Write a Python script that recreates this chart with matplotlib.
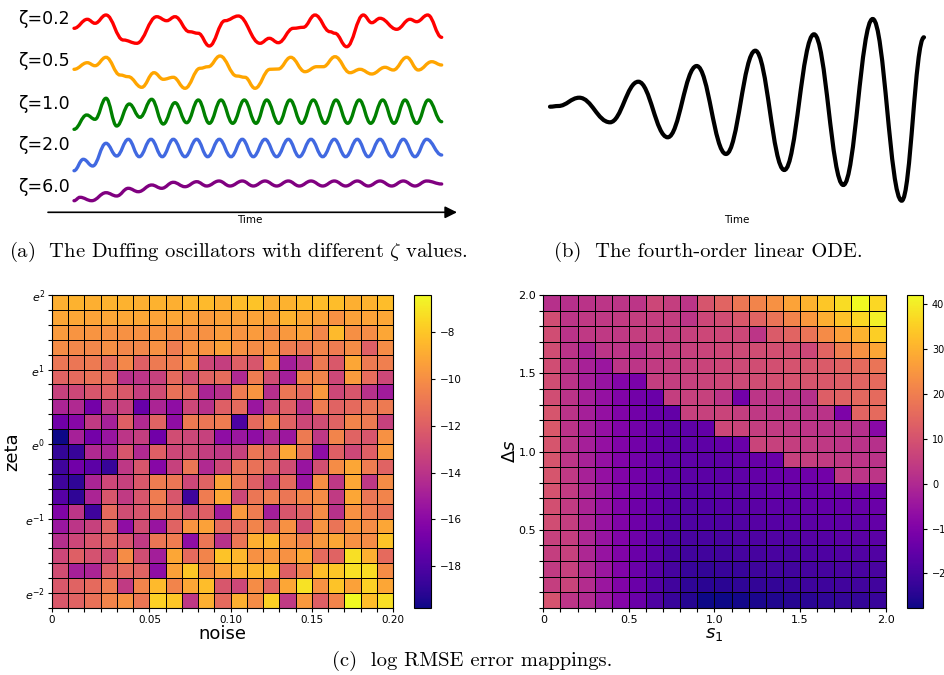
import matplotlib
matplotlib.use("Agg")
import matplotlib.pyplot as plt
import numpy as np
from matplotlib.path import Path
from matplotlib.patches import PathPatch

# ---- (a) Duffing oscillators: extrema (time px, height px)
duffing_labels = ["ζ=0.2", "ζ=0.5", "ζ=1.0", "ζ=2.0", "ζ=6.0"]
duffing_colors = ["red", "orange", "green", "royalblue", "purple"]
label_y = [18.5, 61, 104, 145, 187]

red_t = [74, 87.3, 95, 106, 123.3, 136.7, 156.7, 166.7, 175, 189.3, 198.3, 209.3, 225, 238.3, 260,
         269.3, 278.3, 293.3, 303.3, 315, 330, 335, 346.7, 363.3, 371.7, 380, 396.7, 410, 416.7, 427.7, 441.7]
red_y = [28.3, 19.3, 23.3, 15, 40, 43.3, 16.7, 20.7, 16.7, 31.7, 33.3, 46, 20.7, 16, 43.3,
         38.3, 42.7, 28.3, 27.3, 15, 31.7, 33.3, 46.7, 15, 22.7, 18.3, 29.3, 19.3, 21.7, 15, 37.3]

orange_t = [74, 87.3, 95, 106, 120, 128.3, 141.7, 154, 163.3, 173.3, 185, 200, 208.3, 220, 236.7, 245, 255,
            270, 278.3, 290.7, 305, 316.7, 323.3, 335, 350, 360, 371.7, 385, 393.3, 406.7, 418.3, 431.7, 441.7]
orange_y = [69.3, 62.7, 65.7, 57.3, 75, 76.7, 87.3, 72.7, 79.3, 77.3, 88.3, 68.3, 66.7, 56, 76, 77.3, 88.3,
            69.3, 69, 57.3, 71.7, 66.7, 66.7, 56.7, 72.7, 69.3, 74, 67.3, 70, 57.3, 70, 61.7, 65]

green_t = [74, 86.7, 95, 106, 116.7, 129.3, 140, 151.7, 163.3, 175, 186.7, 198.3, 209.3, 221, 232.7, 244.3,
           256, 266.7, 278.7, 290, 301.7, 313.3, 325, 336, 347.7, 359.3, 370.7, 382.7, 394, 405, 416.7, 428.3, 441.7]
green_y = [129.3, 115, 119.3, 98.3, 126, 104, 117.3, 99.3, 124, 102.7, 122.7, 100, 123.3, 100, 123.3, 100,
           123.3, 100, 123.3, 100, 123.3, 100, 123.3, 100, 123.3, 100, 123.3, 100, 123.3, 100, 123.3, 100, 121.7]

blue_t = [74, 83.3, 92.7, 106, 116.7, 128.3, 139.3, 151, 162.3, 173.3, 185, 196.7, 207.7, 219.3, 231, 242.3,
          253.3, 265, 276.7, 288.3, 299.3, 311, 322.7, 334.3, 345.7, 357.3, 368.3, 380, 391.7, 403.3, 415, 426.7, 441.7]
blue_y = [170.7, 159.3, 166, 143.3, 156, 139.3, 156.7, 139.3, 156.7, 139.3, 156.7, 139.3, 156.7, 139.3, 156.7, 139.3,
          156.7, 139.3, 156.7, 139.3, 156.7, 139.3, 156.7, 139.3, 156.7, 139.3, 156.7, 139.3, 156.7, 139.3, 156.7, 139.3, 155]

purple_t = [74, 80, 91.7, 106, 116.7, 128.3, 138.3, 151.7, 161.7, 173.3, 185, 196.7, 206.7, 219, 230, 242.3,
            253.3, 265, 276.7, 288.3, 299.3, 311, 322.7, 334.3, 345.7, 357.3, 368.3, 380, 391.7, 403.3, 415, 426.7, 441.7]
purple_y = [200.7, 197.3, 200.7, 192.7, 196, 188.3, 191.7, 185, 188.3, 182.3, 186.7, 181.7, 186, 181, 186, 181,
            186, 181, 186, 181, 186, 181, 186, 181, 186, 181, 186, 181, 186, 181, 186, 181, 184]

# ---- (b) fourth-order linear ODE
ode_t = [550, 558.3, 579.3, 610, 638.3, 667.7, 696.7, 726, 755.3, 784.3, 814, 843.3, 872.7, 901.7, 924]
ode_y = [106.7, 106, 97.7, 122.3, 81.7, 137.3, 66, 154, 50.7, 170, 34.3, 185, 19, 200.7, 37.3]

# ---- (c) left: log RMSE over noise x zeta (rows top -> bottom, zeta e^2 ... e^-2.2)
noise_tick_pos = [0, 6, 11, 16, 21]
noise_tick_labels = ["0", "0.05", "0.10", "0.15", "0.20"]
zeta_tick_pos = [0, 5, 10, 15, 20]
zeta_tick_labels = ["$e^{2}$", "$e^{1}$", "$e^{0}$", "$e^{-1}$", "$e^{-2}$"]
rmse_noise = [
    [-8.8, -8.7, -8.8, -8.7, -8.7, -8.8, -8.7, -8.8, -8.5, -8.4, -8.8, -8.3, -8.1, -8.8, -8.7, -8.4, -8.3, -8.3, -8.8, -8.7, -8.3],
    [-9.1, -9.1, -9.2, -9.1, -9.1, -9.1, -9.2, -9.1, -9.3, -9.5, -9.3, -9.3, -9.2, -9.3, -8.7, -9.1, -9.3, -9.9, -9.3, -9.2, -9.1],
    [-9.5, -9.8, -9.8, -9.9, -9.9, -9.9, -9.8, -10.0, -9.9, -9.9, -9.5, -9.8, -9.5, -10.1, -9.6, -9.3, -10.3, -8.4, -10.0, -10.1, -9.1],
    [-10.1, -10.3, -10.3, -10.0, -10.3, -10.3, -9.9, -10.7, -9.9, -9.8, -9.3, -9.9, -10.1, -9.9, -10.7, -11.0, -10.4, -10.7, -10.1, -12.0, -10.1],
    [-11.0, -11.0, -10.8, -11.4, -10.3, -12.0, -10.8, -10.7, -10.0, -13.1, -13.5, -12.0, -12.4, -9.8, -15.0, -13.8, -10.8, -12.3, -9.1, -10.8, -10.6],
    [-11.8, -11.5, -11.2, -11.4, -14.1, -13.9, -13.4, -11.5, -12.8, -11.8, -11.4, -14.5, -10.7, -12.8, -15.0, -10.4, -10.4, -13.1, -9.5, -11.4, -13.1],
    [-13.4, -13.1, -12.4, -12.0, -12.3, -13.5, -12.8, -11.2, -11.5, -14.7, -14.1, -10.7, -9.8, -14.2, -11.0, -11.5, -9.6, -13.1, -12.4, -14.1, -15.1],
    [-14.7, -14.5, -16.8, -13.7, -13.4, -17.2, -14.7, -15.8, -13.1, -14.1, -12.0, -11.5, -15.4, -13.1, -12.0, -14.1, -10.7, -11.8, -11.5, -11.1, -10.8],
    [-16.9, -16.1, -13.7, -14.9, -12.0, -14.5, -11.8, -15.8, -10.8, -11.0, -10.7, -18.1, -11.5, -10.4, -11.8, -13.1, -12.8, -11.8, -10.4, -10.8, -13.4],
    [-19.8, -14.9, -16.8, -15.5, -13.9, -13.5, -16.9, -12.8, -13.1, -13.4, -15.8, -15.4, -15.8, -14.5, -15.3, -10.8, -13.8, -10.4, -11.8, -12.4, -9.9],
    [-18.9, -18.8, -14.5, -14.7, -12.4, -14.5, -12.0, -13.1, -12.8, -13.5, -13.8, -13.4, -11.0, -11.8, -9.1, -11.2, -15.8, -12.0, -13.1, -12.0, -9.5],
    [-18.5, -16.9, -17.6, -18.8, -13.8, -12.4, -16.1, -13.4, -11.0, -14.5, -13.1, -11.2, -11.2, -11.8, -12.8, -15.5, -12.7, -10.1, -9.1, -10.7, -11.8],
    [-18.5, -19.0, -14.7, -13.1, -13.4, -12.3, -10.7, -11.0, -13.1, -11.8, -9.3, -11.0, -12.0, -13.7, -11.5, -15.5, -10.0, -13.8, -9.1, -13.8, -10.1],
    [-17.8, -19.0, -14.7, -12.4, -13.7, -12.4, -10.7, -12.4, -18.5, -10.7, -9.1, -13.1, -11.0, -10.7, -11.0, -10.4, -10.1, -13.7, -9.1, -11.0, -10.4],
    [-16.3, -13.9, -18.5, -11.5, -12.8, -12.4, -11.2, -11.5, -12.6, -12.0, -15.1, -9.6, -10.7, -15.0, -12.4, -11.8, -10.1, -14.1, -9.9, -10.7, -11.2],
    [-15.4, -13.9, -13.4, -11.8, -15.8, -12.8, -15.5, -11.8, -9.8, -9.3, -11.5, -11.5, -10.4, -11.8, -9.9, -12.8, -9.8, -11.1, -9.6, -10.1, -9.1],
    [-14.2, -13.1, -12.4, -11.8, -12.4, -13.7, -11.0, -10.7, -15.8, -11.0, -14.1, -11.0, -8.8, -8.5, -9.9, -10.4, -9.6, -9.1, -9.9, -10.1, -8.1],
    [-13.1, -12.0, -12.6, -12.8, -10.1, -12.8, -15.0, -9.1, -11.5, -10.4, -8.1, -8.5, -9.9, -9.6, -9.9, -9.1, -11.5, -11.8, -7.2, -8.8, -11.5],
    [-12.8, -14.9, -14.7, -12.0, -11.5, -11.8, -15.8, -9.3, -8.0, -10.1, -9.3, -8.7, -8.5, -8.3, -12.0, -10.4, -8.3, -8.0, -7.2, -7.3, -10.1],
    [-12.3, -11.8, -11.5, -10.7, -13.7, -10.4, -8.4, -10.4, -9.1, -8.3, -12.4, -13.1, -10.1, -11.8, -9.1, -7.1, -9.9, -8.1, -9.3, -7.7, -9.1],
    [-12.3, -11.8, -11.2, -10.4, -9.9, -11.0, -7.7, -8.0, -13.8, -8.8, -11.5, -8.8, -10.1, -7.7, -13.7, -9.6, -12.0, -10.4, -6.4, -8.3, -7.2],
]

# ---- (c) right: log RMSE over s1 x delta s (rows top -> bottom, delta s 2.0 ... 0)
s1_tick_labels = ["0", "0.5", "1.0", "1.5", "2.0"]
ds_tick_labels = ["0.5", "1.0", "1.5", "2.0"]
rmse_ode = [
    [1.6, 1.6, 2.3, 3.0, 3.0, 3.0, 7.2, 5.1, 3.0, 10.7, 14.2, 18.4, 21.2, 24.0, 27.4, 30.2, 33.7, 37.2, 42.1, 36.5],
    [8.6, 3.0, 3.7, 3.7, 4.4, 5.1, 5.1, 5.1, 3.0, 7.2, 8.6, 11.4, 14.2, 17.7, 21.2, 25.4, 29.5, 33.0, 36.5, 40.7],
    [8.6, 2.3, 3.7, 3.7, 3.7, 5.1, 5.1, 5.1, 5.8, 7.2, 7.2, 7.2, 3.0, 12.1, 14.2, 17.7, 22.6, 26.7, 30.2, 35.1],
    [8.6, 2.3, -1.2, 3.0, 3.0, 1.6, 4.4, 5.1, 5.8, 6.5, 7.2, 7.9, 8.6, 9.3, 9.3, 7.2, 14.2, 19.8, 24.0, 28.1],
    [8.6, 2.3, -1.9, -4.7, 3.0, 3.0, 4.4, 5.1, 5.8, 6.5, 7.2, 7.9, 8.6, 9.3, 10.0, 10.7, 12.1, 13.5, 15.6, 17.7],
    [8.6, 2.3, -2.6, -5.4, -8.9, -10.9, 5.1, 5.1, 5.8, 6.5, 7.2, 7.9, 8.6, 9.3, 10.0, 10.7, 11.4, 12.8, 14.2, 15.6],
    [8.6, 2.3, -2.6, -6.1, -9.6, -12.3, -13.7, 5.1, 5.8, 5.8, 3.0, -12.3, 3.0, 2.3, 2.3, 1.6, 12.8, 13.5, 14.9, 15.6],
    [10.7, 2.3, -2.6, -6.1, -9.6, -12.3, -14.4, -15.1, 5.8, 5.8, 6.5, 5.1, 3.7, 3.0, 3.0, 2.3, 2.3, -10.3, 14.2, 15.6],
    [11.4, 2.3, -2.6, -6.1, -9.6, -12.3, -14.4, -15.8, -15.8, -15.1, 7.2, 6.5, 5.1, 4.4, 3.7, 3.0, 2.3, 2.3, 1.6, -8.2],
    [10.7, 3.0, -2.6, -6.1, -9.6, -12.3, -14.4, -15.8, -15.8, -15.8, -15.1, -13.7, 6.5, 5.8, 5.1, 4.4, 3.7, 3.0, 2.3, 1.6],
    [10.7, 3.0, -1.9, -6.1, -9.6, -12.3, -14.4, -15.8, -15.8, -16.5, -15.8, -15.1, -14.4, -13.7, 5.8, 5.1, 4.4, 3.7, 3.0, 2.3],
    [10.7, 3.7, -1.9, -6.1, -9.6, -12.3, -14.4, -15.8, -16.5, -16.5, -16.5, -15.8, -15.1, -14.4, -13.7, -13.0, -12.3, 3.7, 3.0, 3.0],
    [10.0, 4.4, -1.2, -5.4, -9.6, -12.3, -15.1, -16.5, -17.2, -17.2, -16.5, -16.5, -15.8, -15.1, -14.4, -14.4, -13.7, -13.7, -13.0, -13.0],
    [9.3, 4.4, -1.2, -5.4, -9.6, -13.0, -15.1, -17.2, -17.9, -17.9, -17.2, -17.2, -16.5, -15.8, -15.8, -15.1, -15.1, -14.4, -14.4, -13.7],
    [8.6, 5.1, -1.2, -5.4, -9.6, -13.0, -15.8, -17.9, -18.6, -18.6, -18.6, -17.9, -17.2, -17.2, -16.5, -16.5, -15.8, -15.8, -15.8, -15.1],
    [5.8, 5.1, -0.5, -5.4, -9.6, -13.0, -16.5, -18.6, -19.3, -19.3, -19.3, -18.6, -18.6, -17.9, -17.9, -17.2, -17.2, -16.5, -16.5, -16.5],
    [5.1, 5.8, -0.5, -5.4, -9.6, -13.7, -16.5, -19.3, -20.7, -20.7, -20.7, -20.0, -20.0, -19.3, -19.3, -18.6, -18.6, -17.9, -17.9, -17.9],
    [4.4, 5.8, 0.2, -4.7, -9.6, -13.7, -17.2, -20.0, -22.1, -22.8, -22.1, -22.1, -21.4, -20.7, -20.7, -20.0, -20.0, -19.3, -19.3, -19.3],
    [5.1, 6.5, 0.9, -4.7, -9.6, -13.7, -17.9, -20.7, -23.5, -24.2, -24.2, -23.5, -22.8, -22.8, -22.1, -21.4, -21.4, -20.7, -20.7, -20.7],
    [10.0, 3.0, 0.2, -4.7, -8.9, -13.7, -18.6, -22.1, -24.9, -27.7, -27.7, -27.0, -26.3, -25.6, -24.9, -24.2, -23.5, -22.8, -22.8, -22.1],
]


def smooth_path(t, y):
    # cubic bezier through the read points, flat tangent at each point
    verts = [(t[0], y[0])]
    codes = [Path.MOVETO]
    for i in range(1, len(t)):
        d = 0.4 * (t[i] - t[i - 1])
        verts += [(t[i - 1] + d, y[i - 1]), (t[i] - d, y[i]), (t[i], y[i])]
        codes += [Path.CURVE4] * 3
    return Path(verts, codes)


def time_arrow(ax, x0, x1, y, xt):
    ax.annotate("", xy=(x1, y), xytext=(x0, y),
                arrowprops=dict(arrowstyle="-|>", lw=1.2, color="black", mutation_scale=18,
                                shrinkA=0, shrinkB=0))
    ax.text(xt, y + 3, "Time", ha="center", va="top", fontsize=7.5)


fig = plt.figure(figsize=(9.45, 6.75), dpi=100)
top_h = 240 / 675

# (a)
ax_a = fig.add_axes([0, 1 - top_h, 0.5, top_h])
ax_a.set_xlim(0, 472.5)
ax_a.set_ylim(240, 0)
ax_a.axis("off")
curves = [(red_t, red_y), (orange_t, orange_y), (green_t, green_y), (blue_t, blue_y), (purple_t, purple_y)]
for (t, y), c, lab, ly in zip(curves, duffing_colors, duffing_labels, label_y):
    ax_a.add_patch(PathPatch(smooth_path(t, y), fill=False, edgecolor=c, lw=2.4, capstyle="round"))
    ax_a.text(70, ly, lab, ha="right", va="center", fontsize=12.5)
time_arrow(ax_a, 48, 457, 212.3, 250)

# (b)
ax_b = fig.add_axes([0.5, 1 - top_h, 0.5, top_h])
ax_b.set_xlim(472.5, 945)
ax_b.set_ylim(240, 0)
ax_b.axis("off")
ax_b.add_patch(PathPatch(smooth_path(ode_t, ode_y), fill=False, edgecolor="black", lw=3.0, capstyle="round"))
time_arrow(ax_b, 531.7, 950, 212.3, 737)

# captions
cap_kw = dict(family="cmr10", math_fontfamily="cm", fontsize=14.8, ha="center", va="center")
fig.text(238 / 945, 1 - 252 / 675, r"(a)  The Duffing oscillators with different $\zeta$ values.", **cap_kw)
fig.text(708 / 945, 1 - 252 / 675, "(b)  The fourth-order linear ODE.", **cap_kw)
fig.text(472 / 945, 1 - 661 / 675, "(c)  log RMSE error mappings.", **cap_kw)

hb = (675 - 608) / 675
hh = 313 / 675

# (c) left heatmap
ax_l = fig.add_axes([52 / 945, hb, 341 / 945, hh])
left = np.array(rmse_noise)
mesh_l = ax_l.pcolormesh(np.arange(left.shape[1] + 1), np.arange(left.shape[0] + 1), left,
                         cmap="plasma", edgecolors="black", linewidth=0.6)
ax_l.set_xlim(0, left.shape[1])
ax_l.set_ylim(left.shape[0], 0)
ax_l.set_xticks(np.arange(left.shape[1] + 1), minor=True)
ax_l.set_yticks(np.arange(left.shape[0] + 1), minor=True)
ax_l.set_xticks(noise_tick_pos, noise_tick_labels)
ax_l.set_yticks(zeta_tick_pos, zeta_tick_labels)
ax_l.tick_params(which="both", length=3, width=0.8, pad=2)
ax_l.tick_params(axis="x", labelsize=7.5)
ax_l.tick_params(axis="y", labelsize=8)
ax_l.set_xlabel("noise", fontsize=13, labelpad=0)
ax_l.set_ylabel("zeta", fontsize=13, labelpad=3)
cax_l = fig.add_axes([414 / 945, hb, 17 / 945, hh])
cb_l = fig.colorbar(mesh_l, cax=cax_l, ticks=[-18, -16, -14, -12, -10, -8])
cb_l.ax.tick_params(labelsize=7.5, length=3)

# (c) right heatmap
ax_r = fig.add_axes([543.3 / 945, hb, 342.4 / 945, hh])
right = np.flipud(np.array(rmse_ode))
edges = np.linspace(0, 2, right.shape[0] + 1)
mesh_r = ax_r.pcolormesh(edges, edges, right, cmap="plasma", edgecolors="black", linewidth=0.6)
ax_r.set_xlim(0, 2)
ax_r.set_ylim(0, 2)
ax_r.set_xticks(edges, minor=True)
ax_r.set_yticks(edges, minor=True)
ax_r.set_xticks([0, 0.5, 1.0, 1.5, 2.0], s1_tick_labels)
ax_r.set_yticks([0.5, 1.0, 1.5, 2.0], ds_tick_labels)
ax_r.tick_params(which="both", length=3, width=0.8, labelsize=8, pad=2)
ax_r.set_xlabel("$s_1$", fontsize=13, labelpad=0)
ax_r.set_ylabel(r"$\Delta s$", fontsize=13, labelpad=0)
cax_r = fig.add_axes([907 / 945, hb, 16 / 945, hh])
cb_r = fig.colorbar(mesh_r, cax=cax_r, ticks=[-20, -10, 0, 10, 20, 30, 40])
cb_r.ax.tick_params(labelsize=7, length=3)

fig.savefig("out.png", dpi=100)
